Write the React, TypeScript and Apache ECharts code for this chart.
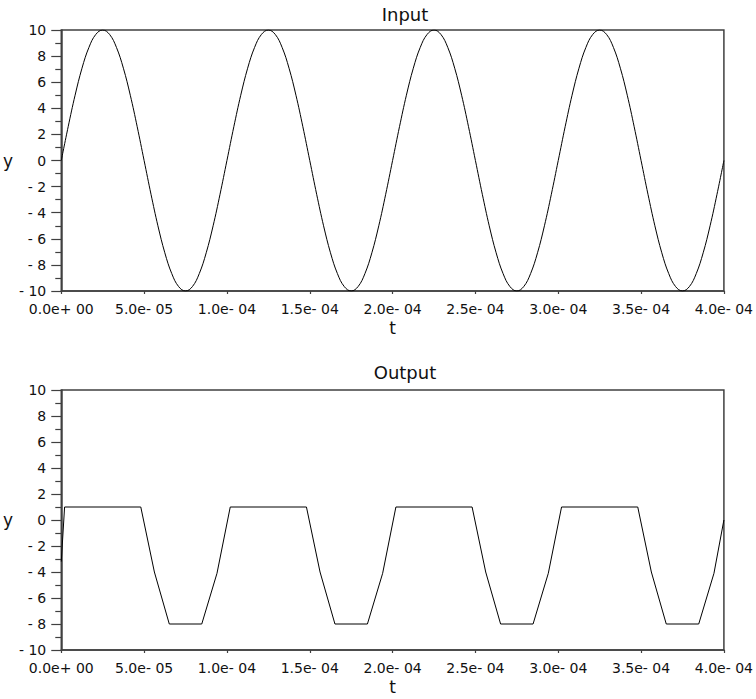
import React, { useEffect, useRef } from "react";
import * as echarts from "echarts";

// Input sine samples (t in seconds, y)
const tIn: number[] = [
  0, 4.167e-6, 8.333e-6, 1.25e-5, 1.667e-5, 2.083e-5, 2.5e-5, 2.917e-5,
  3.333e-5, 3.75e-5, 4.167e-5, 4.583e-5, 5e-5, 5.417e-5, 5.833e-5, 6.25e-5,
  6.667e-5, 7.083e-5, 7.5e-5, 7.917e-5, 8.333e-5, 8.75e-5, 9.167e-5, 9.583e-5,
  1e-4, 1.0417e-4, 1.0833e-4, 1.125e-4, 1.1667e-4, 1.2083e-4, 1.25e-4, 1.2917e-4,
  1.3333e-4, 1.375e-4, 1.4167e-4, 1.4583e-4, 1.5e-4, 1.5417e-4, 1.5833e-4, 1.625e-4,
  1.6667e-4, 1.7083e-4, 1.75e-4, 1.7917e-4, 1.8333e-4, 1.875e-4, 1.9167e-4, 1.9583e-4,
  2e-4, 2.0417e-4, 2.0833e-4, 2.125e-4, 2.1667e-4, 2.2083e-4, 2.25e-4, 2.2917e-4,
  2.3333e-4, 2.375e-4, 2.4167e-4, 2.4583e-4, 2.5e-4, 2.5417e-4, 2.5833e-4, 2.625e-4,
  2.6667e-4, 2.7083e-4, 2.75e-4, 2.7917e-4, 2.8333e-4, 2.875e-4, 2.9167e-4, 2.9583e-4,
  3e-4, 3.0417e-4, 3.0833e-4, 3.125e-4, 3.1667e-4, 3.2083e-4, 3.25e-4, 3.2917e-4,
  3.3333e-4, 3.375e-4, 3.4167e-4, 3.4583e-4, 3.5e-4, 3.5417e-4, 3.5833e-4, 3.625e-4,
  3.6667e-4, 3.7083e-4, 3.75e-4, 3.7917e-4, 3.8333e-4, 3.875e-4, 3.9167e-4, 3.9583e-4,
  4e-4,
];
const yIn: number[] = [
  0, 2.59, 5, 7.07, 8.66, 9.66, 10, 9.66, 8.66, 7.07, 5, 2.59,
  0, -2.59, -5, -7.07, -8.66, -9.66, -10, -9.66, -8.66, -7.07, -5, -2.59,
  0, 2.59, 5, 7.07, 8.66, 9.66, 10, 9.66, 8.66, 7.07, 5, 2.59,
  0, -2.59, -5, -7.07, -8.66, -9.66, -10, -9.66, -8.66, -7.07, -5, -2.59,
  0, 2.59, 5, 7.07, 8.66, 9.66, 10, 9.66, 8.66, 7.07, 5, 2.59,
  0, -2.59, -5, -7.07, -8.66, -9.66, -10, -9.66, -8.66, -7.07, -5, -2.59,
  0, 2.59, 5, 7.07, 8.66, 9.66, 10, 9.66, 8.66, 7.07, 5, 2.59,
  0, -2.59, -5, -7.07, -8.66, -9.66, -10, -9.66, -8.66, -7.07, -5, -2.59,
  0,
];

// Output (clipped) samples
const tOut: number[] = [
  0, 0.2e-5, 4.8e-5, 5.62e-5, 6.52e-5, 8.48e-5, 9.4e-5, 10.2e-5,
  14.8e-5, 15.62e-5, 16.52e-5, 18.48e-5, 19.4e-5, 20.2e-5,
  24.8e-5, 25.62e-5, 26.52e-5, 28.48e-5, 29.4e-5, 30.2e-5,
  34.8e-5, 35.62e-5, 36.52e-5, 38.48e-5, 39.4e-5, 40e-5,
];
const yOut: number[] = [
  -3.2, 1, 1, -4, -8, -8, -4.1, 1,
  1, -4, -8, -8, -4.1, 1,
  1, -4, -8, -8, -4.1, 1,
  1, -4, -8, -8, -4.1, 0,
];

const xTickLabels: string[] = [
  "0.0e+ 00", "5.0e- 05", "1.0e- 04", "1.5e- 04", "2.0e- 04",
  "2.5e- 04", "3.0e- 04", "3.5e- 04", "4.0e- 04",
];
const yTickLabels: string[] = [
  "- 10", "- 8", "- 6", "- 4", "- 2", "0", "2", "4", "6", "8", "10",
];
const titles: string[] = ["Input", "Output"];

const FONT = "DejaVu Sans";
const AXIS_COLOR = "#404040";

export default function App() {
  const ref = useRef<HTMLDivElement>(null);
  useEffect(() => {
    if (!ref.current) return;
    const chart = echarts.init(ref.current, undefined, { renderer: "svg" });
    const grids = [
      { left: 58, right: 31, top: 30, height: 261 },
      { left: 58, right: 31, top: 390, height: 260 },
    ];
    const xAxes = grids.map((_, i) => ({
      type: "value",
      gridIndex: i,
      min: 0,
      max: 4e-4,
      interval: 5e-5,
      name: "t",
      nameLocation: "middle",
      nameGap: 28,
      nameTextStyle: { fontFamily: FONT, fontSize: 17, color: "#111" },
      axisLine: { show: true, onZero: false, lineStyle: { color: AXIS_COLOR, width: 1.5 } },
      axisTick: { show: true, length: 3, lineStyle: { color: AXIS_COLOR, width: 1.2 } },
      axisLabel: {
        fontFamily: FONT,
        fontSize: 14,
        color: "#111",
        margin: 11,
        showMinLabel: true,
        showMaxLabel: true,
        formatter: (_v: number, idx: number) => xTickLabels[idx] ?? "",
      },
      splitLine: { show: false },
    }));
    const yAxes = grids.map((_, i) => ({
      type: "value",
      gridIndex: i,
      min: -10,
      max: 10,
      interval: 2,
      name: "y",
      nameLocation: "middle",
      nameRotate: 0,
      nameGap: 46,
      nameTextStyle: { fontFamily: FONT, fontSize: 17, color: "#111" },
      axisLine: { show: true, onZero: false, lineStyle: { color: AXIS_COLOR, width: 1.5 } },
      axisTick: { show: true, length: 10, lineStyle: { color: AXIS_COLOR, width: 1.2 } },
      minorTick: { show: true, splitNumber: 2, length: 6, lineStyle: { color: AXIS_COLOR, width: 1.2 } },
      axisLabel: {
        fontFamily: FONT,
        fontSize: 14,
        color: "#111",
        margin: 15,
        formatter: (_v: number, idx: number) => yTickLabels[idx] ?? "",
      },
      splitLine: { show: false },
      minorSplitLine: { show: false },
    }));
    chart.setOption({
      animation: false,
      backgroundColor: "#ffffff",
      title: [
        {
          text: titles[0],
          left: 400,
          top: 0,
          textAlign: "center",
          textStyle: { fontFamily: FONT, fontSize: 18, fontWeight: "normal", color: "#111" },
        },
        {
          text: titles[1],
          left: 400,
          top: 358,
          textAlign: "center",
          textStyle: { fontFamily: FONT, fontSize: 18, fontWeight: "normal", color: "#111" },
        },
      ],
      grid: grids.map((g) => ({
        ...g,
        show: true,
        borderColor: AXIS_COLOR,
        borderWidth: 1.5,
        backgroundColor: "transparent",
      })),
      xAxis: xAxes,
      yAxis: yAxes,
      series: [
        {
          type: "line",
          xAxisIndex: 0,
          yAxisIndex: 0,
          data: tIn.map((t, i) => [t, yIn[i]]),
          smooth: 0.4,
          showSymbol: false,
          lineStyle: { color: "#000", width: 1 },
        },
        {
          type: "line",
          xAxisIndex: 1,
          yAxisIndex: 1,
          data: tOut.map((t, i) => [t, yOut[i]]),
          showSymbol: false,
          lineStyle: { color: "#000", width: 1 },
        },
      ],
    });
    return () => chart.dispose();
  }, []);
  return (
    <div
      ref={ref}
      style={{ position: "fixed", left: 0, top: 0, width: 756, height: 699 }}
    />
  );
}
